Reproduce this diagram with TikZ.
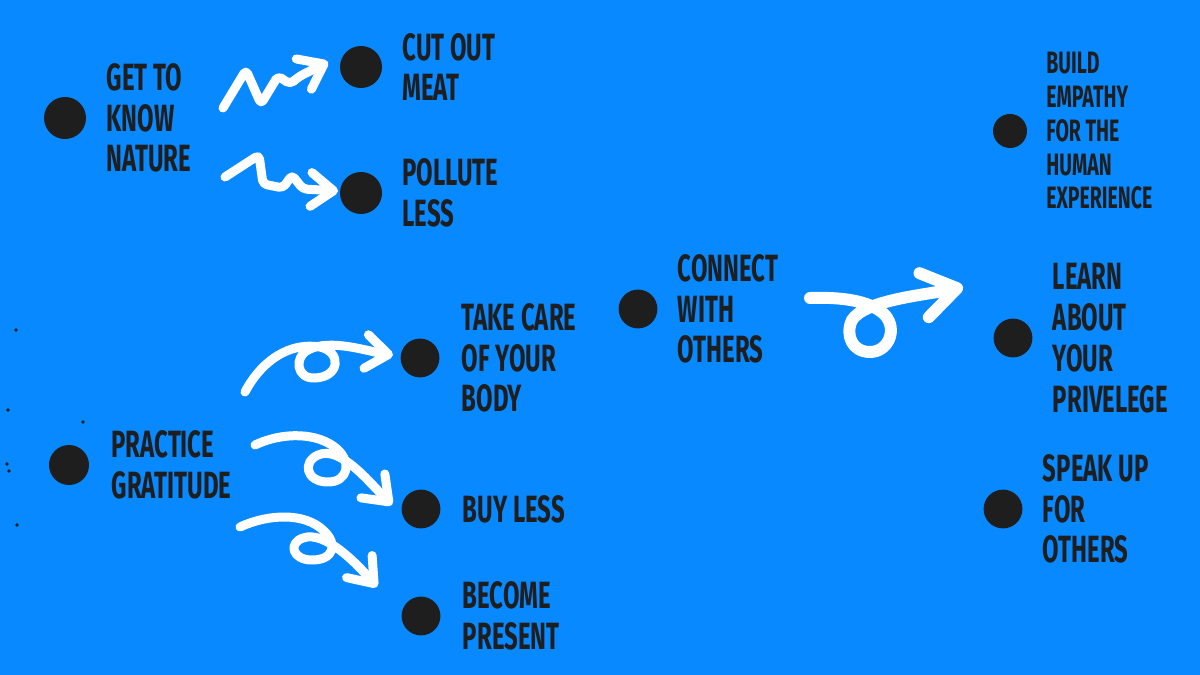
\documentclass[tikz,border=0pt]{standalone}
\usepackage{fontspec}
\setmainfont{Fira Sans}[FakeStretch=0.63]
\usetikzlibrary{positioning,arrows.meta}
\definecolor{sky}{RGB}{8,137,255}
\definecolor{ink}{RGB}{30,30,30}

\begin{document}
\begin{tikzpicture}[x=0.025cm, y=-0.025cm,
    dot/.style={circle, fill=ink, inner sep=0pt, minimum size=1.05cm},
    words/.style={text=ink, inner sep=0pt, align=left, font=\bfseries\fontsize{27}{29}\selectfont},
    smallwords/.style={words, font=\bfseries\fontsize{22}{24}\selectfont},
    swirl/.style={draw=white, line width=6.4pt, line cap=round, line join=round,
        -{Straight Barb[round, length=16pt, width=24pt]}},
    bigswirl/.style={swirl, line width=8.5pt, -{Straight Barb[round, length=24pt, width=32pt]}}]

    % Background
    \fill[sky] (0,0) rectangle (1200,675);
    \useasboundingbox (0,0) rectangle (1200,675);

    % Specks on the left
    \foreach \p in {(16,330), (8,410), (83,422), (7,464), (9,471), (17,525)}
        \fill[ink] \p circle[radius=0.045cm];

    % Nature group
    \node[dot] (nature) at (65,118) {};
    \node[words, right=0.5cm of nature] (nature-txt) {GET TO\\KNOW\\NATURE};
    \node[dot] (meat) at (361,67) {};
    \node[words, right=0.5cm of meat] (meat-txt) {CUT OUT\\MEAT};
    \node[dot] (pollute) at (361,193) {};
    \node[words, right=0.5cm of pollute] (pollute-txt) {POLLUTE\\LESS};

    % Gratitude group
    \node[dot, minimum size=1cm] (gratitude) at (69,465) {};
    \node[words, right=0.55cm of gratitude] (gratitude-txt) {PRACTICE\\GRATITUDE};
    \node[dot, minimum size=0.97cm] (body) at (420,358) {};
    \node[words, right=0.55cm of body] (body-txt) {TAKE CARE\\OF YOUR\\BODY};
    \node[dot, minimum size=0.97cm] (buy) at (421,509) {};
    \node[words, right=0.55cm of buy] (buy-txt) {BUY LESS};
    \node[dot, minimum size=0.97cm] (present) at (421,616) {};
    \node[words, right=0.55cm of present] (present-txt) {BECOME\\PRESENT};

    % Others group
    \node[dot, minimum size=0.97cm] (connect) at (638,309) {};
    \node[words, right=0.5cm of connect] (connect-txt) {CONNECT\\WITH\\OTHERS};
    \node[dot, minimum size=0.85cm] (empathy) at (1010,131) {};
    \node[smallwords, right=0.47cm of empathy] (empathy-txt) {BUILD\\EMPATHY\\FOR THE\\HUMAN\\EXPERIENCE};
    \node[dot, minimum size=0.97cm] (privilege) at (1013,338) {};
    \node[words, right=0.5cm of privilege] (privilege-txt) {LEARN\\ABOUT\\YOUR\\PRIVELEGE};
    \node[dot, minimum size=0.97cm] (speak) at (1003,509) {};
    \node[words, right=0.5cm of speak] (speak-txt) {SPEAK UP\\FOR\\OTHERS};

    % Arrow ends
    \coordinate (zz1s) at (223,108);  \coordinate (zz1e) at (328,62);
    \coordinate (zz2s) at (225,177);  \coordinate (zz2e) at (338,191);
    \coordinate (lp1s) at (245,392);  \coordinate (lp1e) at (393,355);
    \coordinate (lp2s) at (255,445);  \coordinate (lp2e) at (392,505);
    \coordinate (lp3s) at (240,527);  \coordinate (lp3e) at (377,587);
    \coordinate (lp4s) at (810,298);  \coordinate (lp4e) at (963,287);

    % Zigzag arrows
    \draw[swirl, rounded corners=3pt] (zz1s) -- (246,70) -- (261,104) -- (278,76)
        -- (290,84) -- (300,76) -- (zz1e);
    \draw[swirl, rounded corners=3pt] (zz2s) -- (259,155) -- (263,184) -- (283,188)
        -- (292,175) -- (303,189) -- (zz2e);

    % Loop arrows
    \draw[swirl] (lp1s) .. controls (262,360) and (290,342) .. (320,347)
        .. controls (342,352) and (340,377) .. (315,378)
        .. controls (296,379) and (294,357) .. (308,350)
        .. controls (330,338) and (370,352) .. (lp1e);
    \draw[swirl] (lp2s) .. controls (282,432) and (318,432) .. (337,449)
        .. controls (352,462) and (348,482) .. (328,482)
        .. controls (306,482) and (302,462) .. (318,455)
        .. controls (340,445) and (370,483) .. (lp2e);
    \draw[swirl] (lp3s) .. controls (268,514) and (305,512) .. (324,531)
        .. controls (338,544) and (334,560) .. (312,560)
        .. controls (292,560) and (288,543) .. (303,538)
        .. controls (325,530) and (358,565) .. (lp3e);
    \draw[bigswirl] (lp4s) .. controls (840,297) and (870,300) .. (885,315)
        .. controls (898,330) and (888,352) .. (870,352)
        .. controls (852,352) and (845,335) .. (852,320)
        .. controls (865,300) and (925,295) .. (lp4e);

\end{tikzpicture}
\end{document}
